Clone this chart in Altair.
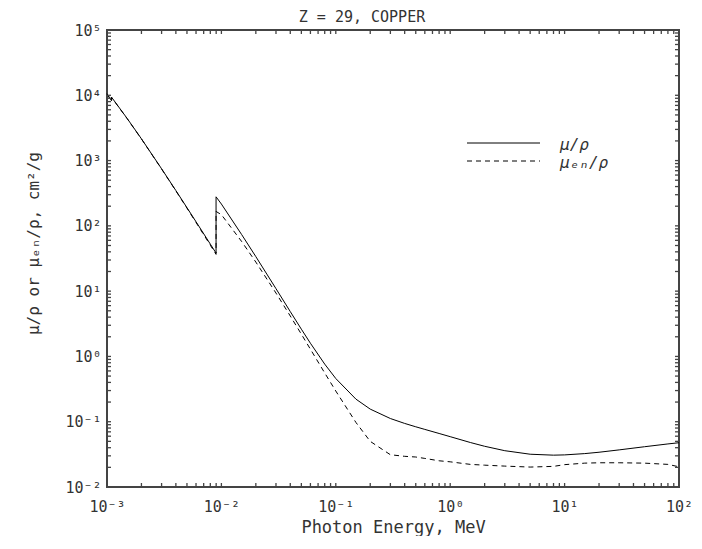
import altair as alt
import pandas as pd
import json

# ---------------- data (Cu, Z = 29) ----------------
ENERGY = [1.0e-3, 1.04695e-3, 1.0961e-3, 1.0961e-3, 1.5e-3, 2e-3, 3e-3, 4e-3, 5e-3, 6e-3,
          8e-3, 8.9789e-3, 8.9789e-3, 1e-2, 1.5e-2, 2e-2, 3e-2, 4e-2, 5e-2, 6e-2, 8e-2,
          0.1, 0.15, 0.2, 0.3, 0.4, 0.5, 0.6, 0.8, 1, 1.5, 2, 3, 5, 8, 10,
          15, 20, 30, 50, 80, 100]
MU = [10570, 9307, 8242, 9347, 4418, 2154, 748.8, 347.3, 189.9, 115.6,
      52.55, 38.29, 278.4, 215.9, 74.05, 33.79, 10.92, 4.862, 2.613, 1.593, 0.763,
      0.4584, 0.2217, 0.1559, 0.1119, 0.09413, 0.08362, 0.07625, 0.06605, 0.05901,
      0.04803, 0.04205, 0.03599, 0.03177, 0.03074, 0.03103,
      0.03247, 0.03408, 0.03703, 0.0414, 0.04567, 0.04767]
MUEN = [10490, 9241, 8186, 9282, 4393, 2142, 743.0, 343.2, 186.6, 112.8,
        50.54, 36.58, 166.2, 148.4, 57.88, 27.88, 9.349, 4.163, 2.192, 1.29, 0.5581,
        0.2949, 0.09739, 0.0500, 0.0312, 0.0295, 0.0288, 0.0274, 0.0252, 0.0243,
        0.0222, 0.0216, 0.0209, 0.0202, 0.0207, 0.0220,
        0.0232, 0.0235, 0.0235, 0.0232, 0.0222, 0.0204]

X_DECADES = [1e-3, 1e-2, 1e-1, 1e0, 1e1, 1e2]
X_LABELS = ["10⁻³", "10⁻²", "10⁻¹", "10⁰", "10¹", "10²"]
Y_DECADES = [1e-2, 1e-1, 1e0, 1e1, 1e2, 1e3, 1e4, 1e5]
Y_LABELS = ["10⁻²", "10⁻¹", "10⁰", "10¹", "10²", "10³", "10⁴", "10⁵"]
MULTS = [1, 2, 3, 4, 5, 6, 7, 8, 9]

TITLE = "Z = 29,  COPPER"
X_TITLE = "Photon Energy, MeV"
Y_TITLE = "μ/ρ or μₑₙ/ρ, cm²/g"
LEGEND = ["μ/ρ", "μₑₙ/ρ"]

# ---------------- layout ----------------
W, H = 572, 457
FONT = "DejaVu Sans Mono"
TXT = "#333333"
FRAME = "#444444"
TL = 4  # tick length

df = pd.DataFrame({"E": ENERGY, "mu": MU, "muen": MUEN, "i": list(range(len(ENERGY)))})
x_ticks = pd.DataFrame({"xt": [m * d for d in X_DECADES[:-1] for m in MULTS] + [X_DECADES[-1]]})
y_ticks = pd.DataFrame({"yt": [m * d for d in Y_DECADES[:-1] for m in MULTS] + [Y_DECADES[-1]]})

xscale = alt.Scale(type="log", domain=[1e-3, 1e2], nice=False)
yscale = alt.Scale(type="log", domain=[1e-2, 1e5], nice=False)

xaxis = alt.Axis(values=X_DECADES, labelExpr=f"{json.dumps(X_LABELS)}[round(log(datum.value)/LN10)+3]",
                 ticks=False, domain=False, grid=False, labelFont=FONT, labelFontSize=15,
                 labelColor=TXT, labelPadding=12, labelFlush=False, labelOverlap=False,
                 titleFont=FONT, titleFontSize=17, titleFontWeight="normal", titleColor=TXT,
                 titleX=W / 2, titleY=40, titleBaseline="middle", titleAnchor="middle")
yaxis = alt.Axis(values=Y_DECADES, labelExpr=f"{json.dumps(Y_LABELS)}[round(log(datum.value)/LN10)+2]",
                 ticks=False, domain=False, grid=False, labelFont=FONT, labelFontSize=15,
                 labelColor=TXT, labelPadding=6, labelBaseline="middle", labelFlush=False,
                 labelOverlap=False,
                 titleFont=FONT, titleFontSize=16, titleFontWeight="normal", titleColor=TXT,
                 titleX=-74, titleY=213, titleAngle=-90, titleAlign="center",
                 titleBaseline="middle")


def X(field):
    return alt.X(f"{field}:Q", scale=xscale, axis=xaxis, title=X_TITLE)


def Y(field):
    return alt.Y(f"{field}:Q", scale=yscale, axis=yaxis, title=Y_TITLE)


base = alt.Chart(df)
dashed = base.mark_line(color="black", strokeWidth=1, strokeDash=[5, 4]).encode(
    x=X("E"), y=Y("muen"), order="i:Q")
solid = base.mark_line(color="black", strokeWidth=1).encode(
    x=X("E"), y=Y("mu"), order="i:Q")

tick_style = dict(color=FRAME, strokeWidth=1.3)
xt = alt.Chart(x_ticks)
yt = alt.Chart(y_ticks)
t_bottom = xt.mark_rule(**tick_style).encode(x=X("xt"), y=alt.value(H), y2=alt.value(H - TL))
t_top = xt.mark_rule(**tick_style).encode(x=X("xt"), y=alt.value(0), y2=alt.value(TL))
t_left = yt.mark_rule(**tick_style).encode(y=Y("yt"), x=alt.value(0), x2=alt.value(TL))
t_right = yt.mark_rule(**tick_style).encode(y=Y("yt"), x=alt.value(W), x2=alt.value(W - TL))

one = pd.DataFrame({"t": [TITLE]})
title = alt.Chart(one).mark_text(font=FONT, fontSize=15, color=TXT, baseline="middle",
                                 align="center").encode(text="t:N", x=alt.value(255), y=alt.value(-13))

leg_solid = alt.Chart(pd.DataFrame({"t": [LEGEND[0]]})).mark_rule(color="black", strokeWidth=1).encode(
    x=alt.value(360), x2=alt.value(433), y=alt.value(113))
leg_dash = alt.Chart(pd.DataFrame({"t": [LEGEND[1]]})).mark_rule(
    color="black", strokeWidth=1, strokeDash=[5, 4]).encode(
    x=alt.value(360), x2=alt.value(433), y=alt.value(131))
leg_t1 = alt.Chart(pd.DataFrame({"t": [LEGEND[0]]})).mark_text(
    font=FONT, fontSize=16, color=TXT, align="left", baseline="middle", fontStyle="italic").encode(
    text="t:N", x=alt.value(453), y=alt.value(115))
leg_t2 = alt.Chart(pd.DataFrame({"t": [LEGEND[1]]})).mark_text(
    font=FONT, fontSize=16, color=TXT, align="left", baseline="middle", fontStyle="italic").encode(
    text="t:N", x=alt.value(453), y=alt.value(133))

chart = alt.layer(dashed, solid, t_bottom, t_top, t_left, t_right, title,
                  leg_solid, leg_dash, leg_t1, leg_t2).properties(
    width=W, height=H,
    autosize=alt.AutoSizeParams(type="none"),
    padding={"left": 99, "top": 22, "right": 15, "bottom": 49},
    background="white",
).configure_view(stroke=FRAME, strokeWidth=2)

chart.save("out.html", embed_options={"renderer": "svg", "actions": False})
